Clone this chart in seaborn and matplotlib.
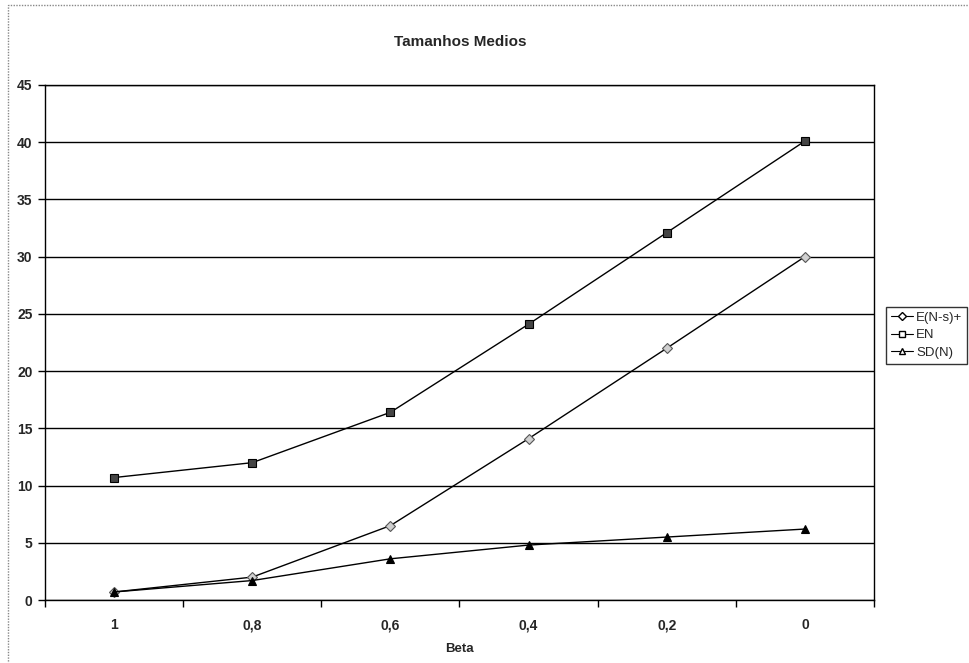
import matplotlib
matplotlib.use("Agg")
import matplotlib.pyplot as plt
import seaborn as sns
import pandas as pd
from matplotlib.patches import Rectangle
from matplotlib.lines import Line2D

# ---- data ----
beta_labels = ["1", "0,8", "0,6", "0,4", "0,2", "0"]
e_ns = [0.7, 2.0, 6.5, 14.1, 22.0, 30.0]
en = [10.7, 12.0, 16.4, 24.1, 32.1, 40.1]
sd_n = [0.7, 1.7, 3.6, 4.8, 5.5, 6.2]
series_names = ["E(N-s)+", "EN", "SD(N)"]
y_ticks = [0, 5, 10, 15, 20, 25, 30, 35, 40, 45]

sns.set_theme(style="white")
plt.rcParams["font.family"] = ["Liberation Sans", "DejaVu Sans"]

fig = plt.figure(figsize=(9.69, 6.63), dpi=100)
ax = fig.add_axes([45 / 969, 63 / 663, (874 - 45) / 969, (600 - 85) / 663])

for yv in y_ticks:
    ax.axhline(yv, color="black", lw=1.0, zorder=0)

sns.lineplot(x=beta_labels, y=en, ax=ax, sort=False, color="black", lw=1.0,
             marker="s", markersize=6, markerfacecolor="#444444",
             markeredgecolor="black", markeredgewidth=0.8)
sns.lineplot(x=beta_labels, y=e_ns, ax=ax, sort=False, color="black", lw=1.0,
             marker="D", markersize=5, markerfacecolor="#d0d0d0",
             markeredgecolor="#555555", markeredgewidth=0.8)
sns.lineplot(x=beta_labels, y=sd_n, ax=ax, sort=False, color="black", lw=1.0,
             marker="^", markersize=6, markerfacecolor="black",
             markeredgecolor="black", markeredgewidth=0.8)

ax.set_xlim(-0.5, len(beta_labels) - 0.5)
ax.set_ylim(0, 45)
ax.set_yticks(y_ticks)
ax.set_xticks(range(len(beta_labels)))
ax.set_xticklabels(beta_labels, fontweight="bold", fontsize=10)
ax.set_xticks([i - 0.5 for i in range(len(beta_labels) + 1)], minor=True)
ax.tick_params(axis="x", which="major", length=0, pad=13)
ax.tick_params(axis="x", which="minor", length=5, direction="out", color="black", width=1, bottom=True)
ax.tick_params(axis="y", which="major", length=5, direction="out", color="black", width=1, left=True, pad=4)
for lab in ax.get_yticklabels():
    lab.set_fontweight("bold")
    lab.set_fontsize(10)

for s in ax.spines.values():
    s.set_color("black")
    s.set_linewidth(1.0)

ax.set_xlabel("Beta", fontweight="bold", fontsize=9.5, labelpad=8)
ax.set_ylabel("")
fig.text(460 / 969, 1 - 42 / 663, "Tamanhos Medios", ha="center", va="center",
         fontweight="bold", fontsize=11)

handles = [
    Line2D([], [], color="black", lw=0.8, marker="D", markersize=4,
           markerfacecolor="white", markeredgecolor="black"),
    Line2D([], [], color="black", lw=0.8, marker="s", markersize=5,
           markerfacecolor="white", markeredgecolor="black"),
    Line2D([], [], color="black", lw=0.8, marker="^", markersize=5,
           markerfacecolor="white", markeredgecolor="black"),
]
leg = fig.legend(handles, series_names, loc="upper left",
                 bbox_to_anchor=(886 / 969, 1 - 307 / 663),
                 frameon=True, fancybox=False, fontsize=9.5,
                 handlelength=1.7, handletextpad=0.25, labelspacing=0.4,
                 borderpad=0.35, borderaxespad=0)
leg.get_frame().set_edgecolor("black")
leg.get_frame().set_linewidth(1.0)

fig.patches.append(Rectangle((8 / 969, -0.05), 1.0, 1 - 5 / 663 + 0.05,
                             transform=fig.transFigure, fill=False,
                             edgecolor="#888888", lw=1.0, ls=(0, (1, 1))))

fig.savefig("out.png", dpi=100)
